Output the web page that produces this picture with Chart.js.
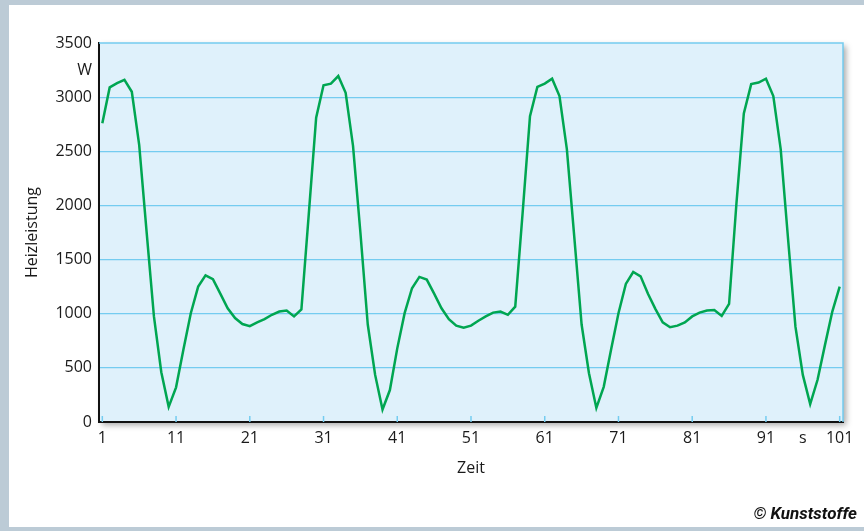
<!DOCTYPE html>
<html>
<head>
<meta charset="utf-8">
<script src="https://cdn.jsdelivr.net/npm/chart.js@4"></script>
<style>
  html, body { margin: 0; padding: 0; background: #fff; }
  canvas { display: block; }
</style>
</head>
<body>
<canvas id="heizChart" width="864" height="531"></canvas>
<script>
// Zeitachse in s
const zeit = Array.from({ length: 101 }, (_, i) => i + 1);

// Heizleistung in W
const heizleistung = [
  2760, 3090, 3130, 3160, 3050, 2560, 1760, 975, 460, 140,
  320, 670, 1005, 1250, 1355, 1320, 1185, 1050, 960, 905,
  885, 920, 950, 990, 1020, 1030, 975, 1040, 1920, 2810,
  3110, 3125, 3195, 3040, 2550, 1750, 900, 435, 115, 295,
  680, 1005, 1235, 1340, 1315, 1185, 1050, 950, 890, 870,
  890, 935, 975, 1010, 1020, 990, 1065, 1930, 2825, 3095,
  3125, 3170, 3010, 2520, 1715, 900, 450, 130, 325, 670,
  1005, 1275, 1385, 1345, 1185, 1045, 920, 875, 890, 920,
  975, 1010, 1030, 1035, 980, 1090, 2020, 2850, 3120, 3135,
  3170, 3010, 2520, 1690, 880, 435, 165, 390, 710, 1020,
  1250
];

// Achsbeschriftung
const xTicks = [1, 11, 21, 31, 41, 51, 61, 71, 81, 91, 96, 101];
const xTickMarks = [1, 11, 21, 31, 41, 51, 61, 71, 81, 91, 101];
const yTicks = [0, 500, 1000, 1500, 2000, 2500, 3000, 3250, 3500];
const yGrid = [500, 1000, 1500, 2000, 2500, 3000];

const FONT = '"Open Sans", "Noto Sans", sans-serif';
const BLAU = '#74ccf0';

// Rahmen, Hintergrund, Schatten
const framePlugin = {
  id: 'frame',
  beforeDraw(chart) {
    const { ctx, chartArea: a, width, height } = chart;
    ctx.save();
    ctx.fillStyle = '#bccbd6';
    ctx.fillRect(0, 0, width, height);
    ctx.fillStyle = '#ffffff';
    ctx.fillRect(9, 5, width - 9, height - 9);
    // Plotfläche mit Schatten
    ctx.shadowColor = 'rgba(0,0,0,0.35)';
    ctx.shadowBlur = 6;
    ctx.shadowOffsetX = 3;
    ctx.shadowOffsetY = 3;
    ctx.fillStyle = '#dff1fb';
    ctx.fillRect(a.left, a.top, a.right - a.left, a.bottom - a.top);
    ctx.restore();
  },
  beforeDatasetsDraw(chart) {
    const { ctx, chartArea: a, scales } = chart;
    ctx.save();
    // obere und rechte Kante
    ctx.strokeStyle = BLAU;
    ctx.lineWidth = 1.5;
    ctx.beginPath();
    ctx.moveTo(a.left, a.top);
    ctx.lineTo(a.right, a.top);
    ctx.lineTo(a.right, a.bottom);
    ctx.stroke();
    // kleine Teilstriche innen
    xTickMarks.forEach(v => {
      const x = scales.x.getPixelForValue(v);
      ctx.beginPath();
      ctx.moveTo(x, a.bottom);
      ctx.lineTo(x, a.bottom - 6);
      ctx.stroke();
    });
    ctx.restore();
  },
  afterDraw(chart) {
    const { ctx } = chart;
    ctx.save();
    ctx.fillStyle = '#111';
    ctx.font = 'italic bold 17px Roboto, sans-serif';
    ctx.textAlign = 'right';
    ctx.textBaseline = 'middle';
    ctx.fillText('\u00A9 Kunststoffe', 857, 515);
    ctx.restore();
  }
};

const ctx = document.getElementById('heizChart').getContext('2d');
const heizChart = new Chart(ctx, {
  type: 'line',
  data: {
    datasets: [{
      data: zeit.map((t, i) => ({ x: t, y: heizleistung[i] })),
      borderColor: '#00a651',
      borderWidth: 2.5,
      pointRadius: 0,
      tension: 0,
      fill: false
    }]
  },
  options: {
    responsive: false,
    animation: false,
    layout: { padding: { top: 43, right: 21, bottom: 0, left: 0 } },
    plugins: {
      legend: { display: false },
      tooltip: { enabled: false }
    },
    scales: {
      x: {
        type: 'linear',
        min: 0.55,
        max: 101.45,
        afterBuildTicks: scale => { scale.ticks = xTicks.map(v => ({ value: v })); },
        afterFit: scale => { scale.height = 109; },
        grid: { display: false, drawTicks: false },
        border: { color: '#111', width: 2 },
        ticks: {
          padding: 7,
          color: '#1a1a1a',
          font: { family: FONT, size: 16 },
          maxRotation: 0,
          autoSkip: false,
          callback: v => (v === 96 ? 's' : String(v))
        },
        title: {
          display: true,
          text: 'Zeit',
          color: '#1a1a1a',
          font: { family: FONT, size: 16 },
          padding: { bottom: 53 }
        }
      },
      y: {
        min: 0,
        max: 3500,
        afterBuildTicks: scale => { scale.ticks = yTicks.map(v => ({ value: v })); },
        afterFit: scale => { scale.width = 99; },
        grid: {
          drawTicks: false,
          lineWidth: c => (c.tick && yGrid.includes(c.tick.value) ? 1.2 : 0),
          color: BLAU
        },
        border: { color: '#111', width: 2 },
        ticks: {
          padding: 7,
          color: '#1a1a1a',
          font: { family: FONT, size: 16 },
          autoSkip: false,
          callback: v => (v === 3250 ? 'W' : String(v))
        },
        title: {
          display: true,
          text: 'Heizleistung',
          color: '#1a1a1a',
          font: { family: FONT, size: 16 },
          padding: { top: 23 }
        }
      }
    }
  },
  plugins: [framePlugin]
});
</script>
</body>
</html>
